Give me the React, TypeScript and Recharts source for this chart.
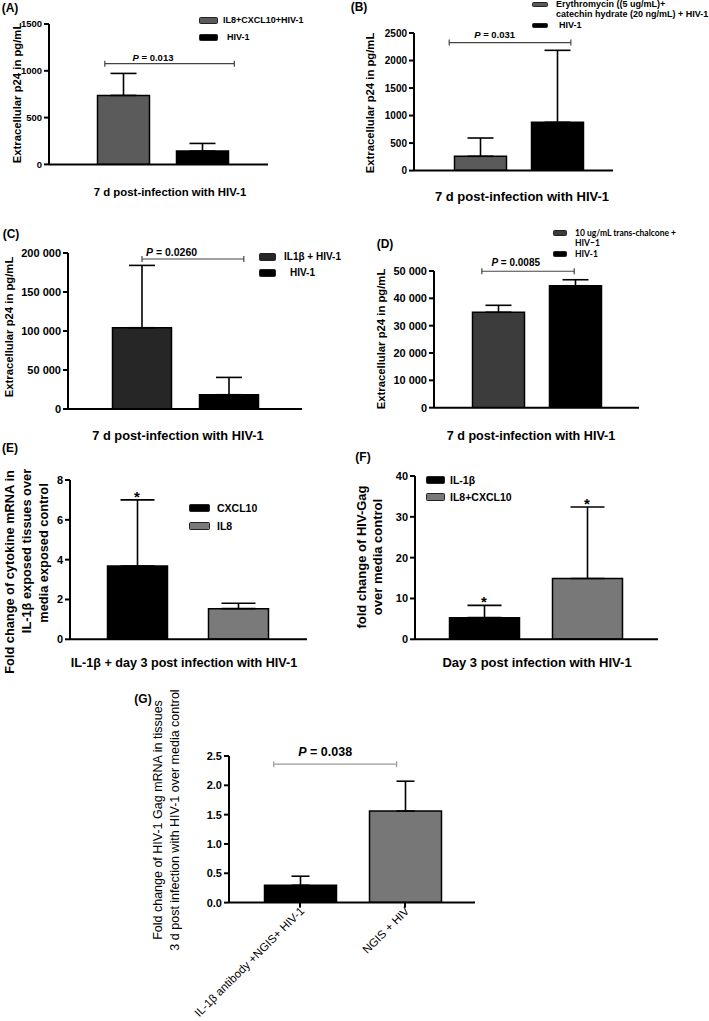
import React from "react";
import {
  BarChart,
  Bar,
  Cell,
  XAxis,
  YAxis,
  ErrorBar,
  ReferenceDot,
  Legend,
} from "recharts";

const SANS = '"Liberation Sans", Arial, Helvetica, sans-serif';

// (A) IL8 + CXCL10, 7 d
const aGroups = ["IL8+CXCL10+HIV-1", "HIV-1"];
const aMeans = [737, 142];
const aErrs = [235, 82];
const aTicks = [0, 500, 1000, 1500];
const aP = "0.013";

// (B) erythromycin + catechin
const bGroups = ["Erythromycin ((5 ug/mL)+\ncatechin hydrate (20 ng/mL) + HIV-1", "HIV-1"];
const bMeans = [260, 877];
const bErrs = [332, 1308];
const bTicks = [0, 500, 1000, 1500, 2000, 2500];
const bP = "0.031";

// (C) IL1b
const cGroups = ["IL1β + HIV-1", "HIV-1"];
const cMeans = [104200, 18300];
const cErrs = [79900, 22200];
const cTicks = [0, 50000, 100000, 150000, 200000];
const cP = "0.0260";

// (D) trans-chalcone
const dGroups = ["10 ug/mL trans-chalcone +\nHIV−1", "HIV-1"];
const dMeans = [34900, 44600];
const dErrs = [2550, 2200];
const dTicks = [0, 10000, 20000, 30000, 40000, 50000];
const dP = "0.0085";

// (E) cytokine mRNA
const eGroups = ["CXCL10", "IL8"];
const eMeans = [3.68, 1.54];
const eErrs = [3.32, 0.27];
const eTicks = [0, 2, 4, 6, 8];
const eStars = [true, false];

// (F) HIV-Gag
const fGroups = ["IL-1β", "IL8+CXCL10"];
const fMeans = [5.3, 14.9];
const fErrs = [3.0, 17.5];
const fTicks = [0, 10, 20, 30, 40];
const fStars = [true, true];

// (G) antibody block
const gGroups = ["IL-1β antibody +NGIS+ HIV-1", "NGIS + HIV"];
const gMeans = [0.295, 1.56];
const gErrs = [0.155, 0.51];
const gTicks = [0, 0.5, 1, 1.5, 2, 2.5];
const gP = "0.038";

const p24Title = "Extracellular p24 in pg/mL";
const d7Title = "7 d post-infection with HIV-1";
const eYTitle = ["Fold change of cytokine mRNA in", "IL-1β exposed tissues over", "media exposed control"];
const eXTitle = "IL-1β + day 3 post infection with HIV-1";
const fYTitle = ["fold change of HIV-Gag", "over media control"];
const fXTitle = "Day 3 post infection with HIV-1";
const gYTitle = ["Fold change of HIV-1 Gag mRNA in tissues", "3 d post infection with HIV-1 over media control"];

const spaced = (v: number) => v.toString().replace(/\B(?=(\d{3})+(?!\d))/g, " ");

type Sig = { p: string; level: number; from: number; to: number; at: number; lift: number; size: number; color: string };
type KeyCfg = {
  x: number; top: number; sw: number; sh: number; gap: number; lh: number;
  rowGap: number; font: number; family?: string; indents?: number[];
};
type Cfg = {
  groups: string[]; means: number[]; errs: number[]; fills: string[]; ticks: number[];
  x0: number; x1: number; y0: number; yb: number; padL: number; padR: number;
  barSize: number; cap: number; tickFont: number; fmt?: (v: number) => string;
  stars?: boolean[]; sig?: Sig; legend?: KeyCfg; slant?: boolean;
};

const centerOf = (lp: any) => {
  const vb = lp.viewBox ?? {};
  return {
    cx: (vb.x ?? 0) + (vb.width ?? 0) / 2,
    cy: (vb.y ?? 0) + (vb.height ?? 0) / 2,
  };
};

const SlantTick = (props: any) => {
  const { x, y, payload } = props;
  return (
    <text
      x={x}
      y={y}
      dx={2}
      dy={5}
      transform={`rotate(-45 ${x} ${y})`}
      textAnchor="end"
      fontSize={11.5}
      fontFamily={SANS}
      fill="#000"
    >
      {payload.value}
    </text>
  );
};

function KeyBox({ k, groups, fills }: { k: KeyCfg; groups: string[]; fills: string[] }) {
  return (
    <div
      style={{
        fontFamily: k.family ?? SANS,
        fontWeight: 700,
        fontSize: k.font,
        lineHeight: `${k.lh}px`,
        color: "#000",
      }}
    >
      {groups.map((g, i) => (
        <div key={i} style={{ display: "flex", alignItems: "flex-start", marginBottom: k.rowGap }}>
          <span
            style={{
              flex: "none",
              width: k.sw,
              height: k.sh,
              marginTop: (k.lh - k.sh) / 2,
              background: fills[i],
              border: "1px solid #222",
              borderRadius: 1.5,
              boxSizing: "border-box",
            }}
          />
          <span style={{ marginLeft: k.gap + (k.indents?.[i] ?? 0), whiteSpace: "pre" }}>{g}</span>
        </div>
      ))}
    </div>
  );
}

function Panel({ c }: { c: Cfg }) {
  const yw = 90;
  const mt = 24;
  const mr = 4;
  const xh = c.slant ? 122 : 8;
  const left = c.x0 - yw;
  const top = c.y0 - mt;
  const width = yw + (c.x1 - c.x0) + mr;
  const height = mt + (c.yb - c.y0) + xh + 2;
  const max = c.ticks[c.ticks.length - 1];
  const band = (c.x1 - c.x0 - c.padL - c.padR) / c.groups.length;
  const rows = c.groups.map((g, i) => ({ name: g, mean: c.means[i], err: c.errs[i] }));
  const axis = { stroke: "#000", strokeWidth: 2 };
  const s = c.sig;

  return (
    <div style={{ position: "absolute", left, top }}>
      <BarChart width={width} height={height} data={rows} margin={{ top: mt, right: mr, bottom: 2, left: 0 }}>
        <XAxis
          dataKey="name"
          padding={{ left: c.padL, right: c.padR }}
          height={xh}
          axisLine={axis}
          tickLine={axis}
          tickSize={5}
          interval={0}
          tick={c.slant ? <SlantTick /> : false}
        />
        <YAxis
          width={yw}
          domain={[0, max]}
          ticks={c.ticks}
          interval={0}
          allowDataOverflow
          axisLine={axis}
          tickLine={axis}
          tickSize={5}
          tickMargin={2}
          tickFormatter={c.fmt}
          tick={{ fill: "#000", fontSize: c.tickFont, fontWeight: 700, fontFamily: SANS }}
        />
        <Bar dataKey="mean" barSize={c.barSize} stroke="#000" strokeWidth={1.5} isAnimationActive={false}>
          {rows.map((r, i) => (
            <Cell key={i} fill={c.fills[i]} />
          ))}
          <ErrorBar
            dataKey={(d: any) => [0, d.err]}
            width={c.cap}
            stroke="#000"
            strokeWidth={1.6}
            direction="y"
            isAnimationActive={false}
          />
        </Bar>
        {s && (
          // significance bracket, anchored on the first group at the bracket level
          <ReferenceDot
            x={rows[0].name}
            y={s.level}
            r={1}
            fill="none"
            stroke="none"
            ifOverflow="visible"
            label={(lp: any) => {
              const { cx, cy } = centerOf(lp);
              const xa = cx + s.from * band;
              const xb = cx + s.to * band;
              const xp = cx + s.at * band;
              return (
                <g>
                  <line x1={xa} x2={xb} y1={cy} y2={cy} stroke={s.color} strokeWidth={1.2} />
                  <line x1={xa} x2={xa} y1={cy - 3} y2={cy + 3} stroke={s.color} strokeWidth={1.2} />
                  <line x1={xb} x2={xb} y1={cy - 3} y2={cy + 3} stroke={s.color} strokeWidth={1.2} />
                  <text x={xp} y={cy - s.lift} textAnchor="middle" fontFamily={SANS} fontWeight={700} fontSize={s.size} fill="#000">
                    <tspan fontStyle="italic">P</tspan> = {s.p}
                  </text>
                </g>
              );
            }}
          />
        )}
        {c.stars &&
          rows.map((r, i) =>
            c.stars![i] ? (
              <ReferenceDot
                key={`star${i}`}
                x={r.name}
                y={r.mean + r.err}
                r={1}
                fill="none"
                stroke="none"
                ifOverflow="visible"
                label={(lp: any) => {
                  const { cx, cy } = centerOf(lp);
                  return (
                    <text x={cx} y={cy + 2} textAnchor="middle" fontFamily={SANS} fontWeight={700} fontSize={15} fill="#000">
                      *
                    </text>
                  );
                }}
              />
            ) : null
          )}
        {c.legend && (
          <Legend
            layout="vertical"
            align="center"
            verticalAlign="middle"
            wrapperStyle={{ left: c.legend.x - left, top: c.legend.top - top, width: "auto" }}
            content={() => <KeyBox k={c.legend!} groups={c.groups} fills={c.fills} />}
          />
        )}
      </BarChart>
    </div>
  );
}

function HText({ x, y, text, size, weight = 700 }: { x: number; y: number; text: string; size: number; weight?: number }) {
  return (
    <div
      style={{
        position: "absolute",
        left: x,
        top: y,
        transform: "translate(-50%, -50%)",
        whiteSpace: "nowrap",
        fontSize: size,
        fontWeight: weight,
        lineHeight: 1.15,
      }}
    >
      {text}
    </div>
  );
}

function VText({ x, y, lines, size, lh, weight = 700 }: { x: number; y: number; lines: string[]; size: number; lh: number; weight?: number }) {
  return (
    <div
      style={{
        position: "absolute",
        left: x,
        top: y,
        transform: "translate(-50%, -50%) rotate(-90deg)",
        whiteSpace: "nowrap",
        textAlign: "center",
        fontSize: size,
        fontWeight: weight,
        lineHeight: `${lh}px`,
      }}
    >
      {lines.map((l, i) => (
        <div key={i}>{l}</div>
      ))}
    </div>
  );
}

const panelA: Cfg = {
  groups: aGroups, means: aMeans, errs: aErrs, fills: ["#5b5b5b", "#000"], ticks: aTicks,
  x0: 49, x1: 268, y0: 24.3, yb: 164.7, padL: 34.5, padR: 26.5, barSize: 52, cap: 13, tickFont: 9.5,
  sig: { p: aP, level: 1076, from: -0.23, to: 1.41, at: 0.38, lift: 2.5, size: 9.5, color: "#444" },
  legend: { x: 199, top: 15.5, sw: 19, sh: 7, gap: 5, lh: 11, rowGap: 6, font: 9, indents: [0, 4] },
};

const panelB: Cfg = {
  groups: bGroups, means: bMeans, errs: bErrs, fills: ["#5a5a5a", "#000"], ticks: bTicks,
  x0: 414, x1: 613, y0: 32.7, yb: 170.3, padL: 27.5, padR: 17.5, barSize: 52, cap: 13, tickFont: 10,
  sig: { p: bP, level: 2326, from: -0.4, to: 1.18, at: 0.19, lift: 5, size: 9.5, color: "#444" },
  legend: { x: 532, top: -1.25, sw: 16, sh: 5, gap: 8, lh: 10.5, rowGap: 0, font: 9, indents: [0, 3] },
};

const panelC: Cfg = {
  groups: cGroups, means: cMeans, errs: cErrs, fills: ["#262626", "#000"], ticks: cTicks,
  x0: 68, x1: 302, y0: 253.3, yb: 409.3, padL: 30.5, padR: 29.5, barSize: 59, cap: 13, tickFont: 11, fmt: spaced,
  sig: { p: cP, level: 192300, from: 0, to: 1.17, at: 0.34, lift: 3, size: 10.5, color: "#444" },
  legend: { x: 259, top: 251.5, sw: 17, sh: 8, gap: 8, lh: 11, rowGap: 5, font: 10, indents: [0, 6] },
};

const panelD: Cfg = {
  groups: dGroups, means: dMeans, errs: dErrs, fills: ["#3c3c3c", "#000"], ticks: dTicks,
  x0: 434, x1: 639, y0: 271, yb: 407.7, padL: 25.5, padR: 25.5, barSize: 52, cap: 13, tickFont: 11, fmt: spaced,
  sig: { p: dP, level: 49900, from: -0.21, to: 0.99, at: 0.23, lift: 5, size: 10, color: "#444" },
  legend: { x: 553, top: 228, sw: 14, sh: 6, gap: 8, lh: 10, rowGap: 1, font: 8.5, family: "Lato, sans-serif" },
};

const panelE: Cfg = {
  groups: eGroups, means: eMeans, errs: eErrs, fills: ["#000", "#7a7a7a"], ticks: eTicks,
  x0: 70, x1: 307, y0: 480, yb: 639.3, padL: 16.5, padR: 18.5, barSize: 60, cap: 17, tickFont: 11,
  stars: eStars,
  legend: { x: 189, top: 502, sw: 21, sh: 8, gap: 7, lh: 12, rowGap: 6, font: 10.5 },
};

const panelF: Cfg = {
  groups: fGroups, means: fMeans, errs: fErrs, fills: ["#000", "#787878"], ticks: fTicks,
  x0: 415, x1: 658, y0: 475.7, yb: 639, padL: 17.5, padR: 19.5, barSize: 70, cap: 17, tickFont: 11,
  stars: fStars,
  legend: { x: 426, top: 474, sw: 19, sh: 8, gap: 5, lh: 12, rowGap: 5, font: 10.5 },
};

const panelG: Cfg = {
  groups: gGroups, means: gMeans, errs: gErrs, fills: ["#000", "#777"], ticks: gTicks,
  x0: 229, x1: 475, y0: 755.7, yb: 902.3, padL: 18.5, padR: 17.5, barSize: 72, cap: 9, tickFont: 11,
  fmt: (v) => v.toFixed(1), slant: true,
  sig: { p: gP, level: 2.36, from: -0.25, to: 0.92, at: 0.24, lift: 8, size: 12.5, color: "#999" },
};

export default function App() {
  return (
    <div
      style={{
        position: "absolute",
        left: 0,
        top: 0,
        width: 709,
        height: 1021,
        background: "#fff",
        overflow: "hidden",
        fontFamily: SANS,
        color: "#000",
      }}
    >
      <Panel c={panelA} />
      <Panel c={panelB} />
      <Panel c={panelC} />
      <Panel c={panelD} />
      <Panel c={panelE} />
      <Panel c={panelF} />
      <Panel c={panelG} />

      <HText x={10} y={9} text="(A)" size={12} />
      <VText x={17} y={93} lines={[p24Title]} size={11.3} lh={13} />
      <HText x={170} y={193} text={d7Title} size={11.4} />

      <HText x={359} y={8} text="(B)" size={12} />
      <VText x={370} y={103} lines={[p24Title]} size={11.3} lh={13} />
      <HText x={522} y={197} text={d7Title} size={13} />

      <HText x={11} y={235} text="(C)" size={12} />
      <VText x={9} y={327} lines={[p24Title]} size={11.3} lh={13} />
      <HText x={178} y={436} text={d7Title} size={12.8} />

      <HText x={385} y={244.5} text="(D)" size={12} />
      <VText x={381} y={339} lines={[p24Title]} size={11.3} lh={13} />
      <HText x={531} y={436} text={d7Title} size={12.6} />

      <HText x={10} y={449} text="(E)" size={12} />
      <VText x={9} y={572} lines={[eYTitle[0]]} size={12.8} lh={15} />
      <VText x={26} y={551} lines={[eYTitle[1]]} size={12.8} lh={15} />
      <VText x={43} y={553} lines={[eYTitle[2]]} size={12.8} lh={15} />
      <HText x={184} y={663} text={eXTitle} size={12.6} />

      <HText x={363} y={458} text="(F)" size={12} />
      <VText x={370} y={557} lines={fYTitle} size={13} lh={16} />
      <HText x={537} y={663} text={fXTitle} size={13} />

      <HText x={143} y={700} text="(G)" size={12} />
      <VText x={167} y={820} lines={gYTitle} size={12.5} lh={17} weight={400} />
    </div>
  );
}
